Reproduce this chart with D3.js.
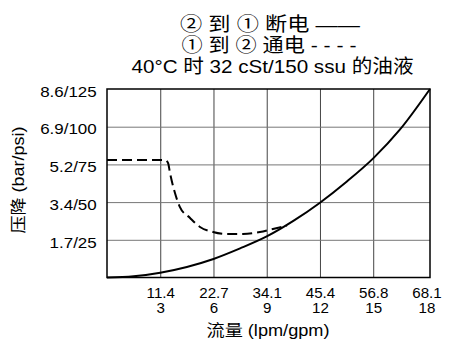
<!DOCTYPE html>
<html><head><meta charset="utf-8">
<script src="https://cdn.jsdelivr.net/npm/d3@7"></script>
<style>
body{margin:0;background:#fff;}
text{font-family:"Liberation Sans",Arial,"Noto Sans CJK SC",sans-serif;fill:#000;}
</style></head>
<body><svg id="c" width="449" height="354"></svg>
<script>
const gpmTicks=[3,6,9,12,15,18];
const lpmLabels=["11.4","22.7","34.1","45.4","56.8","68.1"];
const psiTicks=[25,50,75,100,125];
const barLabels=["1.7","3.4","5.2","6.9","8.6"];
const titleLines=["② 到  ① 断电 ——","① 到 ② 通电 - - - -","40°C 时 32 cSt/150 ssu 的油液"];
const xLabel="流量 (lpm/gpm)";
const yLabel="压降 (bar/psi)";
// solid: ② to ① de-energized
const solidGpm=[0,1.5,3,4.5,6,7.5,9,10.5,12,13.5,15,16.5,18.2];
const solidPsi=[0,0.8,3.2,7.0,12.3,19.3,27.2,37.5,49.6,63.5,79,98,125];
// dashed: ① to ② energized
const dashGpm=[0,3.27,3.44,3.55,3.83,4.11,4.68,5.24,5.97,6.76,7.66,8.62,9.35,10.14];
const dashPsi=[77.9,77.9,75.9,69.3,56.0,46.7,39.5,33.5,30.2,28.8,28.8,30.2,32.2,34.2];

const svg=d3.select("#c");
const L=107,R=430,T=89,B=277.5;
const x=d3.scaleLinear().domain([0,18.2]).range([L,R]);
const y=d3.scaleLinear().domain([0,125]).range([B,T]);

// grid
const gx=svg.append("g").attr("transform",`translate(0,${B})`)
  .call(d3.axisBottom(x).tickValues(gpmTicks.slice(0,5)).tickSize(-(B-T)).tickFormat(""));
gx.select(".domain").remove();
gx.selectAll("line").attr("stroke","#444").attr("stroke-width",1);
const gy=svg.append("g").attr("transform",`translate(${L},0)`)
  .call(d3.axisLeft(y).tickValues(psiTicks.slice(0,4)).tickSize(-(R-L)).tickFormat(""));
gy.select(".domain").remove();
gy.selectAll("line").attr("stroke","#777").attr("stroke-width",1);

// border
svg.append("rect").attr("x",L).attr("y",T).attr("width",R-L).attr("height",B-T)
  .attr("fill","none").attr("stroke","#000").attr("stroke-width",1.5);

// y tick labels
const yl=svg.append("g").attr("transform",`translate(${L},0)`)
  .call(d3.axisLeft(y).tickValues(psiTicks).tickSize(0).tickPadding(8.8)
    .tickFormat((d,i)=>barLabels[i]+"/"+d));
yl.select(".domain").remove();
yl.selectAll("text").attr("font-size",14.5).attr("dy","0.5em")
  .attr("transform","scale(1.17,1)")
  .style("font-family",'"Liberation Sans",Arial,sans-serif');

// x tick labels (two lines)
const xl=svg.append("g").attr("transform",`translate(0,${B})`)
  .call(d3.axisBottom(x).tickValues(gpmTicks).tickSize(0).tickFormat(""));
xl.select(".domain").remove();
xl.selectAll(".tick").each(function(d,i){
  const t=d3.select(this).append("text").attr("font-size",14).attr("text-anchor","middle")
    .attr("transform","scale(1.08,1)")
    .style("font-family",'"Liberation Sans",Arial,sans-serif');
  t.append("tspan").attr("x",0).attr("y",21).text(lpmLabels[i]);
  t.append("tspan").attr("x",0).attr("y",36).text(d);
});

// curves
const line=d3.line().x((d)=>x(d[0])).y((d)=>y(d[1])).curve(d3.curveMonotoneX);
svg.append("path").datum(solidGpm.map((g,i)=>[g,solidPsi[i]]))
  .attr("d",line).attr("fill","none").attr("stroke","#000").attr("stroke-width",2);
svg.append("path").datum(dashGpm.map((g,i)=>[g,dashPsi[i]]))
  .attr("d",line).attr("fill","none").attr("stroke","#000").attr("stroke-width",2)
  .attr("stroke-dasharray","10,5");

// titles
const tx=[270,269,272.5], tw=[180,175,282], ty=[31,52,73];
svg.selectAll(".title").data(titleLines).enter().append("text")
  .attr("x",(d,i)=>tx[i]).attr("y",(d,i)=>ty[i]).attr("text-anchor","middle")
  .attr("font-size",19).attr("textLength",(d,i)=>tw[i]).attr("lengthAdjust","spacingAndGlyphs")
  .text(d=>d);

svg.append("text").attr("x",268).attr("y",336).attr("text-anchor","middle")
  .attr("font-size",16).attr("textLength",123).attr("lengthAdjust","spacingAndGlyphs").text(xLabel);
svg.append("text").attr("transform","translate(24,180) rotate(-90)")
  .attr("text-anchor","middle").attr("font-size",16)
  .attr("textLength",107).attr("lengthAdjust","spacingAndGlyphs").text(yLabel);
</script></body></html>
